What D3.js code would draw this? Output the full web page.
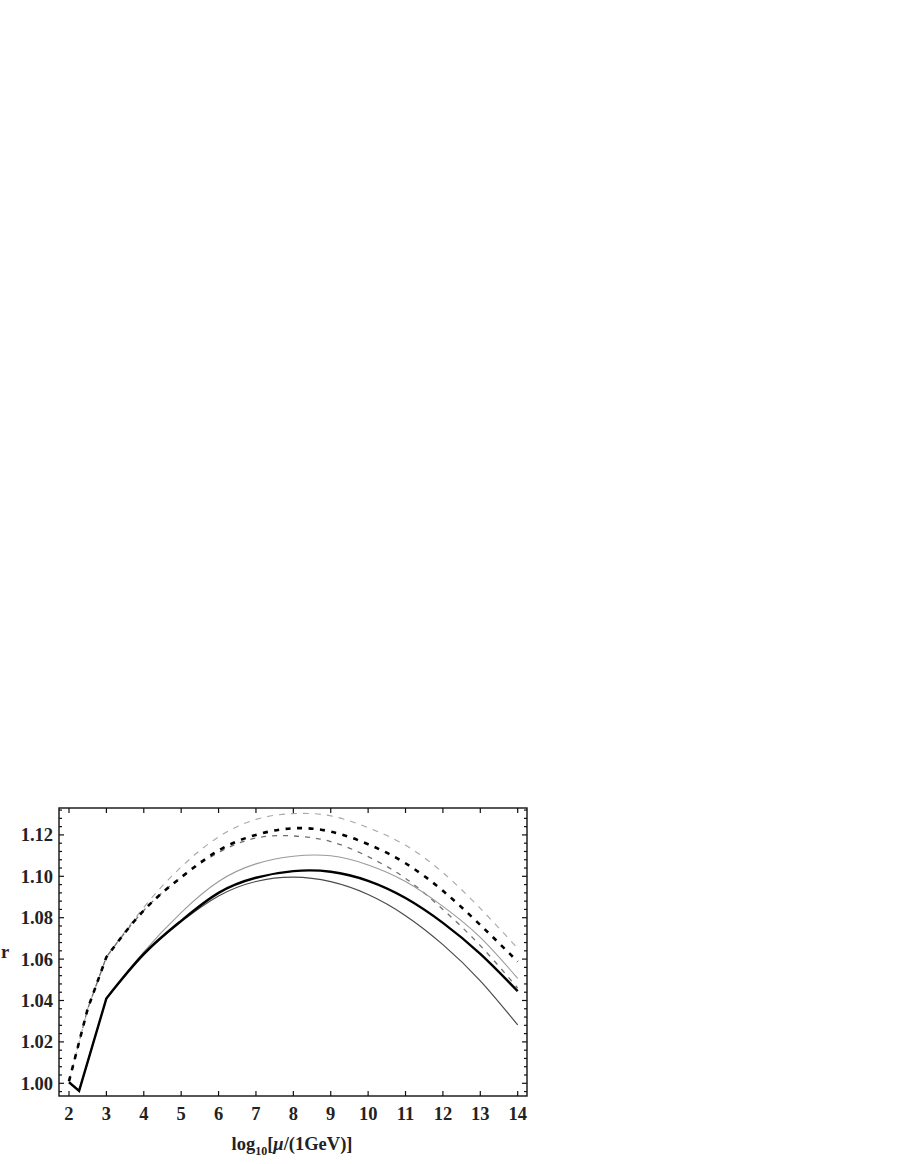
<!DOCTYPE html>
<html>
<head>
<meta charset="utf-8">
<script src="https://d3js.org/d3.v7.min.js"></script>
<style>
  body { margin: 0; background: #fff; }
  .tick-label { font-family: "Liberation Serif", "Times New Roman", serif; font-weight: bold; font-size: 18.5px; fill: #222; }
</style>
</head>
<body>
<svg id="chart"></svg>
<script>
// x values of the low-energy part (straight segments) and of the smooth part
var soloLowX = [2, 2.27, 3];
var soloLowY = [1.0005, 0.9963, 1.041];
var dashLowX = [2, 2.5, 3];
var dashLowY = [1.001, 1.036, 1.061];

var xMain = [3, 4, 5, 6, 7, 8, 9, 10, 11, 12, 13, 14];

// solid curves
var blackSolid = [1.041, 1.0625, 1.0785, 1.092, 1.0993, 1.1025, 1.1022, 1.0978, 1.0895, 1.0775, 1.0625, 1.0445];
var lightSolid = [1.041, 1.0635, 1.0825, 1.0975, 1.106, 1.1097, 1.1099, 1.1055, 1.0975, 1.0855, 1.0705, 1.0507];
var darkSolid  = [1.041, 1.062, 1.078, 1.0905, 1.0975, 1.0996, 1.0974, 1.0912, 1.081, 1.067, 1.0495, 1.0282];

// dashed curves
var blackDash  = [1.061, 1.0835, 1.0995, 1.1125, 1.12, 1.1232, 1.1216, 1.1155, 1.1063, 1.093, 1.0765, 1.0588];
var lightDash  = [1.061, 1.085, 1.1045, 1.119, 1.1275, 1.1303, 1.1292, 1.1235, 1.115, 1.1018, 1.0845, 1.0652];
var midDash    = [1.061, 1.0835, 1.0995, 1.1115, 1.1185, 1.1195, 1.1168, 1.1095, 1.099, 1.084, 1.0665, 1.046];

var xTicks = [2, 3, 4, 5, 6, 7, 8, 9, 10, 11, 12, 13, 14];
var yTicks = [1.00, 1.02, 1.04, 1.06, 1.08, 1.10, 1.12];

var W = 900, H = 1164;
var pLeft = 59, pTop = 808, pRight = 527, pBottom = 1096;

var svg = d3.select("#chart").attr("width", W).attr("height", H);

var x = d3.scaleLinear().domain([1.7326, 14.249]).range([pLeft, pRight]);
var y = d3.scaleLinear().domain([0.99386, 1.133]).range([pBottom, pTop]);

svg.append("clipPath").attr("id", "clip")
  .append("rect").attr("x", pLeft).attr("y", pTop)
  .attr("width", pRight - pLeft).attr("height", pBottom - pTop);

var plot = svg.append("g").attr("clip-path", "url(#clip)");

var lineLow = d3.line().x(function(d) { return x(d[0]); }).y(function(d) { return y(d[1]); });
var lineMain = d3.line().curve(d3.curveNatural)
  .x(function(d) { return x(d[0]); }).y(function(d) { return y(d[1]); });

var series = [
  { low: [dashLowX, dashLowY], vals: lightDash, color: "#a8a8a8", w: 1.1, dash: "6,6" },
  { low: [dashLowX, dashLowY], vals: midDash, color: "#707070", w: 1.3, dash: "5,6" },
  { low: [soloLowX, soloLowY], vals: lightSolid, color: "#9a9a9a", w: 1.1, dash: null },
  { low: [soloLowX, soloLowY], vals: darkSolid, color: "#4a4a4a", w: 1.2, dash: null },
  { low: [soloLowX, soloLowY], vals: blackSolid, color: "#000", w: 2.4, dash: null },
  { low: [dashLowX, dashLowY], vals: blackDash, color: "#000", w: 2.6, dash: "5,6.5" }
];

series.forEach(function(s) {
  var lowPts = s.low[0].map(function(v, i) { return [v, s.low[1][i]]; });
  var mainPts = xMain.map(function(v, i) { return [v, s.vals[i]]; });
  // one path per curve so the dashes continue through x = 3
  var d = lineLow(lowPts) + lineMain(mainPts).replace(/^M/, "L");
  plot.append("path")
    .attr("d", d)
    .attr("fill", "none")
    .attr("stroke", s.color)
    .attr("stroke-width", s.w)
    .attr("stroke-dasharray", s.dash)
    .attr("stroke-linejoin", "miter");
});

// frame
svg.append("rect")
  .attr("x", pLeft).attr("y", pTop)
  .attr("width", pRight - pLeft).attr("height", pBottom - pTop)
  .attr("fill", "none").attr("stroke", "#111").attr("stroke-width", 1.4);

// x ticks (bottom and top, pointing inward)
var tk = svg.append("g").attr("stroke", "#111").attr("stroke-width", 1.2);
xTicks.forEach(function(t) {
  tk.append("line").attr("x1", x(t)).attr("x2", x(t)).attr("y1", pBottom).attr("y2", pBottom - 5);
  tk.append("line").attr("x1", x(t)).attr("x2", x(t)).attr("y1", pTop).attr("y2", pTop + 5);
});

// y ticks, major every 0.02 with 4 minor ticks between
var yMinor = d3.range(0, 36).map(function(i) { return 0.992 + i * 0.004; })
  .filter(function(v) { return v > 0.99386 && v < 1.133; });
yMinor.forEach(function(v) {
  var isMajor = yTicks.some(function(t) { return Math.abs(t - v) < 1e-6; });
  var len = isMajor ? 5 : 3;
  var yy = y(v);
  tk.append("line").attr("x1", pLeft).attr("x2", pLeft + len).attr("y1", yy).attr("y2", yy);
  tk.append("line").attr("x1", pRight).attr("x2", pRight - len).attr("y1", yy).attr("y2", yy);
});

// tick labels
svg.append("g").selectAll("text").data(xTicks).enter().append("text")
  .attr("class", "tick-label")
  .attr("x", function(d) { return x(d); })
  .attr("y", 1120)
  .attr("text-anchor", "middle")
  .text(function(d) { return d; });

svg.append("g").selectAll("text").data(yTicks).enter().append("text")
  .attr("class", "tick-label")
  .attr("x", 53)
  .attr("y", function(d) { return y(d) + 6.5; })
  .attr("text-anchor", "end")
  .text(function(d) { return d3.format(".2f")(d); });

// axis titles
svg.append("text").attr("class", "tick-label")
  .attr("x", 1).attr("y", 958)
  .text("r");

var xt = svg.append("text").attr("class", "tick-label")
  .attr("x", 292).attr("y", 1150)
  .attr("text-anchor", "middle");
xt.append("tspan").text("log");
xt.append("tspan").attr("font-size", "12px").attr("dy", 5).text("10");
xt.append("tspan").attr("dy", -5).text("[");
xt.append("tspan").attr("font-style", "italic").text("\u03bc");
xt.append("tspan").text("/(1GeV)]");
</script>
</body>
</html>
